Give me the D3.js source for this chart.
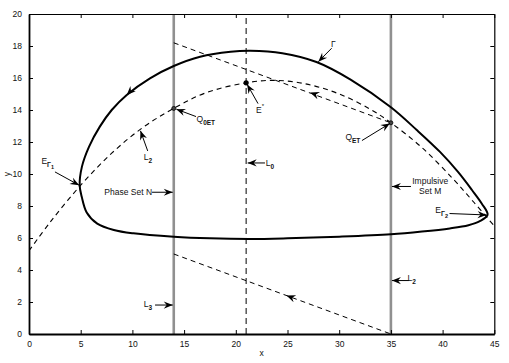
<!DOCTYPE html>
<html><head><meta charset="utf-8">
<script src="https://cdn.jsdelivr.net/npm/d3@7"></script>
<style>body{margin:0;background:#fff} text{font-family:"Liberation Sans",Arial,Helvetica,sans-serif}</style>
</head><body><svg id="c" width="509" height="363"></svg>
<script>
// ---- data ----
const xTicks = [0, 5, 10, 15, 20, 25, 30, 35, 40, 45];
const yTicks = [0, 2, 4, 6, 8, 10, 12, 14, 16, 18, 20];
// closed orbit Gamma (in flow order)
const gammaCurve = [
  [44.35, 7.45], [43.81, 8.13], [42.84, 9.0], [41.49, 10.13], [39.75, 11.38],
  [37.5, 12.75], [35, 14.17], [31.1, 15.9], [27.8, 17.0], [24.5, 17.55], [21.4, 17.7],
  [19.5, 17.64], [16.55, 17.33], [14, 16.75], [11.7, 15.98], [9.45, 14.94], [8.0, 14.0],
  [6.85, 12.96], [5.8, 11.7], [5.12, 10.46], [4.9, 9.3], [5.1, 8.58], [5.58, 7.6], [6.6, 6.9],
  [8.2, 6.5], [10.1, 6.29], [14, 6.08], [17.5, 5.98], [21.4, 5.94], [25, 5.98],
  [30, 6.08], [35, 6.23], [38, 6.4], [40.7, 6.6], [42.5, 6.8], [43.6, 7.05]
];
// dashed curve L2
const l2Curve = [
  [0, 5.2], [2, 6.95], [5, 9.3], [8, 11.3], [11, 12.9], [14, 14.1], [17, 15.05], [21, 15.7],
  [24, 15.85], [27, 15.6], [30, 15.0], [33, 14.05], [35, 13.2], [38, 11.65], [41, 9.7],
  [43, 8.25], [45, 6.75]
];
const upperLine = [[14, 18.2], [35, 13.2]];
const lowerLine = [[14, 5.0], [35, 0]];
const l0Line = [[21, 0], [21, 20]];
const setNLine = [[14, 0], [14, 20]];
const setMLine = [[35, 0], [35, 20]];
const eStar = [21, 15.7];
const openPoints = [[14, 14.1], [35, 13.2]];
// direction arrowheads on trajectories: position and point it heads toward
const flowArrows = [
  {at: [9.45, 14.94], toward: [8.0, 14.0]},
  {at: [27.2, 15.09], toward: [14, 18.2]},
  {at: [24.9, 2.4], toward: [14, 5.0]}
];
// text labels: main text, subscripts, superscript, anchor position (data units)
const labels = [
  {main: "Γ", pos: [29.2, 17.95]},
  {main: "E", sup: "*", pos: [21.95, 13.8]},
  {main: "Q", sub: "0ET", pos: [16.2, 13.25]},
  {main: "L", sub: "2", pos: [11.1, 10.9]},
  {main: "E", sub: "Γ", subsub: "1", pos: [1.2, 10.65]},
  {main: "Phase Set N", pos: [11.9, 8.7], anchor: "end"},
  {main: "L", sub: "3", pos: [11.1, 1.7]},
  {main: "L", sub: "0", pos: [22.9, 10.5]},
  {main: "Q", sub: "ET", pos: [30.6, 12.1]},
  {main: "Impulsive", pos: [38.8, 9.38], anchor: "middle"},
  {main: "Set  M", pos: [38.8, 8.78], anchor: "middle"},
  {main: "E", sub: "Γ", subsub: "2", pos: [39.3, 7.58]},
  {main: "L", sub: "2", pos: [36.6, 3.3]}
];
// annotation arrows: from -> to (data units)
const pointers = [
  {from: [29.27, 17.86], to: [27.98, 17.02]},
  {from: [22.15, 14.4], to: [21.1, 15.6]},
  {from: [16.15, 13.59], to: [14.25, 14.05]},
  {from: [11.48, 11.44], to: [10.78, 12.7]},
  {from: [2.51, 10.13], to: [4.85, 9.3]},
  {from: [11.9, 8.86], to: [13.9, 8.86]},
  {from: [12.19, 1.81], to: [13.9, 1.81]},
  {from: [22.82, 10.69], to: [21.15, 10.69]},
  {from: [32.2, 12.09], to: [34.9, 13.16]},
  {from: [36.94, 9.22], to: [35.1, 9.22]},
  {from: [40.67, 7.53], to: [44.25, 7.44]},
  {from: [36.75, 3.34], to: [35.1, 3.34]}
];

// ---- drawing ----
const W = 509, H = 363;
const m = {left: 29, top: 14, right: 14.7, bottom: 29};
const svg = d3.select("#c");
const x = d3.scaleLinear().domain([0, 45]).range([m.left, W - m.right]);
const y = d3.scaleLinear().domain([0, 20]).range([H - m.bottom, m.top]);

const defs = svg.append("defs");
defs.append("marker").attr("id", "ah").attr("markerUnits", "userSpaceOnUse")
  .attr("viewBox", "-10 -5 12 10").attr("refX", 0).attr("refY", 0)
  .attr("markerWidth", 12).attr("markerHeight", 10).attr("orient", "auto")
  .append("path").attr("d", "M0,0 L-9,-3.6 L-6,0 L-9,3.6 Z").attr("fill", "#000");
defs.append("clipPath").attr("id", "clip").append("rect")
  .attr("x", x(0)).attr("y", y(20)).attr("width", x(45) - x(0)).attr("height", y(0) - y(20));

const line = d3.line().x(d => x(d[0])).y(d => y(d[1]));
const g = svg.append("g").attr("clip-path", "url(#clip)");

// vertical sets
g.append("path").datum(setNLine).attr("d", line).attr("stroke", "#909090").attr("stroke-width", 2.6).attr("fill", "none");
g.append("path").datum(setMLine).attr("d", line).attr("stroke", "#909090").attr("stroke-width", 2.6).attr("fill", "none");
// L0 dashed
g.append("path").datum(l0Line).attr("d", line).attr("stroke", "#000").attr("stroke-width", 1)
  .attr("stroke-dasharray", "6,4").attr("fill", "none");
// dashed lines
[upperLine, lowerLine].forEach(dd => {
  g.append("path").datum(dd).attr("d", line).attr("stroke", "#000").attr("stroke-width", 1)
    .attr("stroke-dasharray", "5,4").attr("fill", "none");
});
g.append("path").datum(l2Curve).attr("d", d3.line().x(d => x(d[0])).y(d => y(d[1])).curve(d3.curveCatmullRom))
  .attr("stroke", "#000").attr("stroke-width", 1.1).attr("stroke-dasharray", "5,4").attr("fill", "none");
// Gamma
g.append("path").datum(gammaCurve)
  .attr("d", d3.line().x(d => x(d[0])).y(d => y(d[1])).curve(d3.curveCatmullRomClosed.alpha(0.5)))
  .attr("stroke", "#000").attr("stroke-width", 2).attr("fill", "none");

// flow arrowheads
flowArrows.forEach(a => {
  const px = x(a.at[0]), py = y(a.at[1]);
  const ang = Math.atan2(y(a.toward[1]) - py, x(a.toward[0]) - px) * 180 / Math.PI;
  g.append("path").attr("d", "M0,0 L-9,-3.8 L-6,0 L-9,3.8 Z").attr("fill", "#000")
    .attr("transform", `translate(${px},${py}) rotate(${ang})`);
});

// points
g.append("circle").attr("cx", x(eStar[0])).attr("cy", y(eStar[1])).attr("r", 2.6).attr("fill", "#000");
openPoints.forEach(p => {
  g.append("circle").attr("cx", x(p[0])).attr("cy", y(p[1])).attr("r", 2)
    .attr("fill", "#444").attr("stroke", "#000").attr("stroke-width", 0.8);
});

// pointers
pointers.forEach(p => {
  svg.append("line").attr("x1", x(p.from[0])).attr("y1", y(p.from[1]))
    .attr("x2", x(p.to[0])).attr("y2", y(p.to[1]))
    .attr("stroke", "#000").attr("stroke-width", 1).attr("marker-end", "url(#ah)");
});

// labels
labels.forEach(l => {
  const t = svg.append("text").attr("x", x(l.pos[0])).attr("y", y(l.pos[1]))
    .attr("font-size", 8.5).attr("fill", "#111").attr("text-anchor", l.anchor || "start");
  t.append("tspan").text(l.main);
  if (l.sub) t.append("tspan").attr("font-size", 6.5).attr("dy", 3).attr("font-weight", "bold").text(l.sub);
  if (l.subsub) t.append("tspan").attr("font-size", 5.5).attr("dy", 2.5).attr("font-weight", "bold").text(l.subsub);
  if (l.sup) t.append("tspan").attr("font-size", 6).attr("dy", -5).text(l.sup);
});

// axes frame
const axB = svg.append("g").attr("transform", `translate(0,${y(0)})`)
  .call(d3.axisBottom(x).tickValues(xTicks).tickSizeInner(-4).tickSizeOuter(0).tickPadding(7));
const axL = svg.append("g").attr("transform", `translate(${x(0)},0)`)
  .call(d3.axisLeft(y).tickValues(yTicks).tickSizeInner(-4).tickSizeOuter(0).tickPadding(7));
const axT = svg.append("g").attr("transform", `translate(0,${y(20)})`)
  .call(d3.axisTop(x).tickValues(xTicks).tickSizeInner(-4).tickSizeOuter(0).tickFormat(""));
const axR = svg.append("g").attr("transform", `translate(${x(45)},0)`)
  .call(d3.axisRight(y).tickValues(yTicks).tickSizeInner(-4).tickSizeOuter(0).tickFormat(""));
[axB, axL, axT, axR].forEach(a => {
  a.selectAll("text").attr("font-size", 8.5).attr("fill", "#111")
    .attr("font-family", "'Liberation Sans',Arial,sans-serif");
  a.selectAll(".tick line").attr("stroke", "#000");
});
axB.select(".domain").attr("stroke-width", 1.8);
axL.select(".domain").attr("stroke-width", 1.8);
axT.select(".domain").attr("stroke-width", 1.2);
axR.select(".domain").attr("stroke-width", 1.2);

svg.append("text").attr("x", x(22.5)).attr("y", 356).attr("text-anchor", "middle")
  .attr("font-size", 8.5).attr("fill", "#111").text("x");
svg.append("text").attr("transform", `translate(10,${y(10)}) rotate(-90)`).attr("text-anchor", "middle")
  .attr("font-size", 8.5).attr("fill", "#111").text("y");
</script></body></html>
